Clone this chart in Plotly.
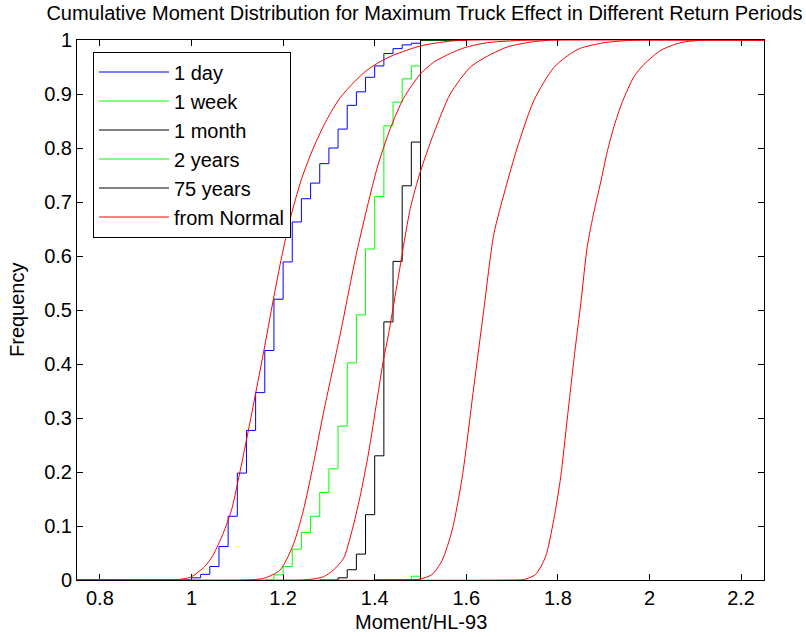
import plotly.graph_objects as go

# ---------------- data ----------------
# empirical (step) distributions
day_x = [0.78, 1.00, 1.02, 1.04, 1.06, 1.08, 1.10, 1.12, 1.14, 1.16, 1.18, 1.20, 1.22, 1.24,
         1.26, 1.28, 1.30, 1.32, 1.34, 1.36, 1.38, 1.40, 1.42, 1.44, 1.46, 1.48, 1.50, 1.60]
day_y = [0.0, 0.004, 0.0105, 0.025, 0.062, 0.118, 0.198, 0.277, 0.347, 0.425, 0.520, 0.589,
         0.663, 0.706, 0.735, 0.771, 0.800, 0.835, 0.879, 0.904, 0.931, 0.952, 0.975, 0.984,
         0.991, 0.994, 1.0, 1.0]

week_x = [1.16, 1.18, 1.20, 1.22, 1.24, 1.26, 1.28, 1.30, 1.32, 1.34, 1.36, 1.38, 1.40, 1.42,
          1.44, 1.46, 1.48, 1.50, 1.60]
week_y = [0.0, 0.0095, 0.025, 0.057, 0.088, 0.118, 0.162, 0.206, 0.285, 0.402, 0.491, 0.613,
          0.710, 0.841, 0.885, 0.928, 0.952, 1.0, 1.0]

month_x = [1.28, 1.30, 1.32, 1.34, 1.36, 1.38, 1.40, 1.42, 1.44, 1.46, 1.48, 1.50, 1.60]
month_y = [0.0, 0.0, 0.004, 0.019, 0.048, 0.121, 0.230, 0.478, 0.590, 0.730, 0.811, 1.0, 1.0]

yr2_x = [1.40, 1.46, 1.48, 1.50, 1.60]
yr2_y = [0.0, 0.0, 0.007, 1.0, 1.0]

yr75_x = [1.40, 1.48, 1.50, 1.60]
yr75_y = [0.0, 0.0, 1.0, 1.0]

# curves "from Normal"
n1_x = [0.75, 0.96, 0.982, 1.0, 1.029, 1.047, 1.069, 1.0875, 1.102, 1.120, 1.1385, 1.157,
        1.1786, 1.197, 1.215, 1.24, 1.266, 1.295, 1.3245, 1.355, 1.383, 1.41, 1.441, 1.5,
        1.565, 1.62, 2.25]
n1_y = [0.0, 0.0, 0.002, 0.006, 0.025, 0.046, 0.086, 0.130, 0.185, 0.259, 0.339, 0.420,
        0.519, 0.599, 0.667, 0.742, 0.800, 0.852, 0.893, 0.922, 0.944, 0.959, 0.972, 0.989,
        0.998, 1.0, 1.0]

n2_x = [0.75, 1.12, 1.157, 1.193, 1.222, 1.244, 1.266, 1.288, 1.3245, 1.361, 1.405, 1.434,
        1.463, 1.4996, 1.529, 1.565, 1.597, 1.646, 1.71, 1.76, 2.25]
n2_y = [0.0, 0.0, 0.003, 0.018, 0.065, 0.128, 0.214, 0.309, 0.454, 0.608, 0.762, 0.836,
        0.892, 0.937, 0.959, 0.975, 0.986, 0.995, 0.999, 1.0, 1.0]

n3_x = [0.75, 1.24, 1.266, 1.288, 1.310, 1.332, 1.350, 1.368, 1.3865, 1.405, 1.419, 1.430,
        1.4486, 1.4777, 1.4996, 1.529, 1.565, 1.609, 1.646, 1.689, 1.74, 1.79, 2.25]
n3_y = [0.0, 0.0, 0.002, 0.006, 0.0185, 0.040, 0.090, 0.154, 0.235, 0.333, 0.407, 0.454,
        0.546, 0.688, 0.756, 0.827, 0.900, 0.950, 0.970, 0.987, 0.996, 1.0, 1.0]

n4_x = [0.75, 1.48, 1.50, 1.525, 1.547, 1.569, 1.591, 1.616, 1.638, 1.660, 1.6856, 1.711,
        1.7475, 1.791, 1.828, 1.850, 1.901, 1.952, 2.0, 2.25]
n4_y = [0.0, 0.0, 0.002, 0.010, 0.036, 0.092, 0.190, 0.355, 0.499, 0.640, 0.725, 0.800,
        0.888, 0.949, 0.975, 0.985, 0.995, 0.999, 1.0, 1.0]

n5_x = [0.75, 1.70, 1.7256, 1.751, 1.773, 1.791, 1.806, 1.8206, 1.838, 1.850, 1.864, 1.879,
        1.893, 1.908, 1.9225, 1.941, 1.966, 1.988, 2.025, 2.068, 2.12, 2.25]
n5_y = [0.0, 0.0, 0.001, 0.010, 0.043, 0.112, 0.190, 0.300, 0.430, 0.512, 0.617, 0.683,
        0.735, 0.794, 0.840, 0.886, 0.932, 0.955, 0.981, 0.995, 1.0, 1.0]

x_tickvals = [0.8, 1.0, 1.2, 1.4, 1.6, 1.8, 2.0, 2.2]
x_ticktext = ["0.8", "1", "1.2", "1.4", "1.6", "1.8", "2", "2.2"]
y_tickvals = [0, 0.1, 0.2, 0.3, 0.4, 0.5, 0.6, 0.7, 0.8, 0.9, 1.0]
y_ticktext = ["0", "0.1", "0.2", "0.3", "0.4", "0.5", "0.6", "0.7", "0.8", "0.9", "1"]

# ---------------- figure ----------------
FONT = "Liberation Sans, Arial, Helvetica, sans-serif"
W, H = 806, 637
ML, MR, MT, MB = 77, 42, 40, 57
PW, PH = W - ML - MR, H - MT - MB

fig = go.Figure()

steps = [
    ("1 day", day_x, day_y, "#0000FF"),
    ("1 week", week_x, week_y, "#00FF00"),
    ("1 month", month_x, month_y, "#000000"),
    ("2 years", yr2_x, yr2_y, "#00FF00"),
    ("75 years", yr75_x, yr75_y, "#000000"),
]
for name, xs, ys, col in steps:
    fig.add_trace(go.Scatter(x=xs, y=ys, mode="lines", name=name,
                             line=dict(color=col, width=1, shape="hv")))

normals = [(n1_x, n1_y), (n2_x, n2_y), (n3_x, n3_y), (n4_x, n4_y), (n5_x, n5_y)]
for i, (xs, ys) in enumerate(normals):
    fig.add_trace(go.Scatter(x=xs, y=ys, mode="lines", name="from Normal",
                             showlegend=(i == 0),
                             line=dict(color="#FF0000", width=1, shape="spline", smoothing=0.7)))

axis_common = dict(showline=True, linecolor="black", linewidth=1, mirror="ticks",
                   ticks="inside", ticklen=6, tickcolor="black", showgrid=False,
                   zeroline=False, layer="below traces", automargin=False,
                   tickfont=dict(family=FONT, size=20, color="black"))

fig.update_layout(
    width=W, height=H,
    margin=dict(l=ML, r=MR, t=MT, b=MB),
    paper_bgcolor="white", plot_bgcolor="white",
    font=dict(family=FONT, size=20, color="black"),
    title=dict(text="Cumulative Moment Distribution for Maximum Truck Effect in Different Return Periods",
               x=424.5 / W, xref="container", xanchor="center",
               y=1 - 12.5 / H, yref="container", yanchor="middle",
               font=dict(family=FONT, size=20, color="black")),
    xaxis=dict(range=[0.75, 2.25], tickvals=x_tickvals, ticktext=x_ticktext, **axis_common),
    yaxis=dict(range=[0, 1], tickvals=y_tickvals, ticktext=y_ticktext, **axis_common),
    legend=dict(x=(93 - ML) / PW, y=1 - (52 - 40.5) / PH, xanchor="left", yanchor="top",
                bgcolor="white", bordercolor="black", borderwidth=1,
                font=dict(family=FONT, size=20, color="black"), itemwidth=70),
    showlegend=True,
    annotations=[
        dict(text="Moment/HL-93", xref="paper", yref="paper", x=(421 - ML) / PW,
             y=-(622 - (H - MB)) / PH, xanchor="center", yanchor="middle",
             showarrow=False, font=dict(family=FONT, size=20, color="black")),
        dict(text="Frequency", xref="paper", yref="paper", x=(17 - ML) / PW, y=0.5,
             xanchor="center", yanchor="middle", textangle=-90,
             showarrow=False, font=dict(family=FONT, size=20, color="black")),
    ],
)

fig.write_html("out.html")
